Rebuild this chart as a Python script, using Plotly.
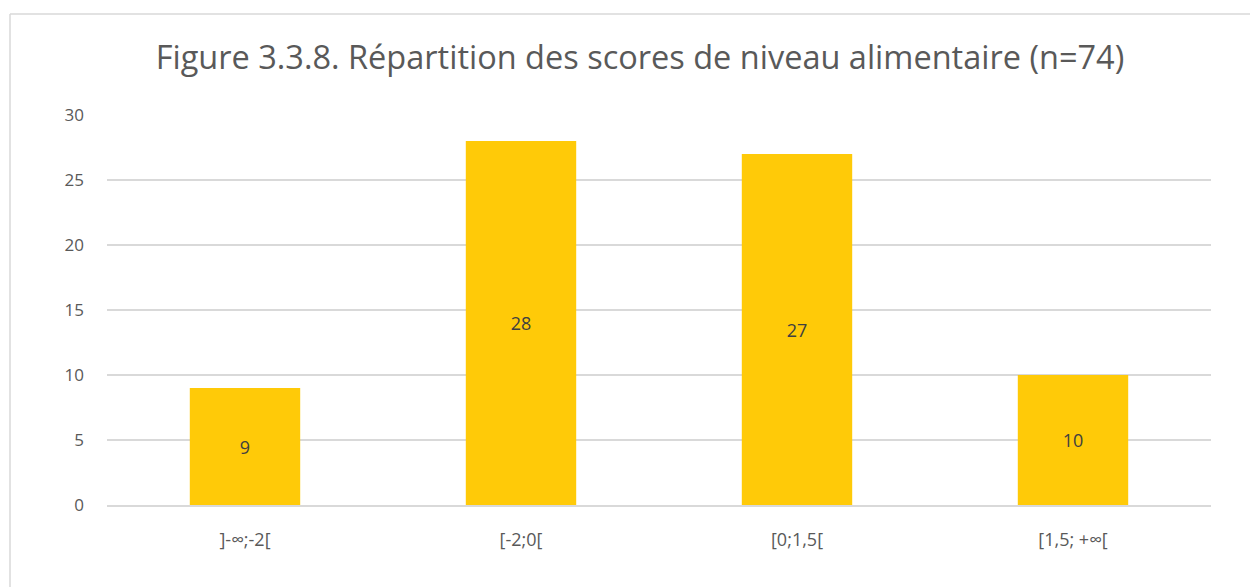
import plotly.graph_objects as go

categories = ["]-∞;-2[", "[-2;0[", "[0;1,5[", "[1,5; +∞["]
values = [9, 28, 27, 10]
y_ticks = [0, 5, 10, 15, 20, 25, 30]
title_text = "Figure 3.3.8. Répartition des scores de niveau alimentaire (n=74)"

# page has an 8px body margin; figure sized so it fills the 1258x587 window
W, H = 1250, 579
L, R, T, B = 99, 47, 107, 82
pw, ph = W - L - R, H - T - B

def px_x(p):
    return (p - L) / pw

def px_y(p):
    return (H - B - p) / ph

FONT = "Open Sans, sans-serif"

fig = go.Figure(go.Bar(
    x=categories, y=values,
    marker=dict(color="#FFCA08", line=dict(width=0)),
    text=[str(v) for v in values],
    textposition="inside", insidetextanchor="middle",
    textfont=dict(family=FONT, size=18, color="#404040"),
    hoverinfo="skip",
))

fig.update_layout(
    width=W, height=H,
    margin=dict(l=L, r=R, t=T, b=B, autoexpand=False),
    paper_bgcolor="white", plot_bgcolor="white",
    bargap=0.6,
    showlegend=False,
    font=dict(family=FONT, color="#595959"),
    title=dict(text=title_text, xref="container", x=632 / W,
               xanchor="center", yref="container", y=1 - 50 / H, yanchor="middle",
               font=dict(family=FONT, size=32.5, color="#595959")),
    xaxis=dict(showgrid=False, showline=True, linecolor="#d9d9d9", linewidth=1.5,
               ticks="", tickfont=dict(size=18, color="#595959"), ticklabelstandoff=18),
    yaxis=dict(range=[0, 30], tickvals=y_ticks, showgrid=True, gridcolor="#d9d9d9",
               gridwidth=1.5, zeroline=False, showline=False, ticks="",
               tickfont=dict(size=17, color="#595959"), ticklabelstandoff=22),
    shapes=[
        dict(type="line", xref="paper", yref="paper", x0=px_x(2), x1=px_x(W + 20),
             y0=px_y(6), y1=px_y(6), line=dict(color="#d9d9d9", width=1.5)),
        dict(type="line", xref="paper", yref="paper", x0=px_x(2), x1=px_x(2),
             y0=px_y(6), y1=px_y(H + 20), line=dict(color="#d9d9d9", width=1.5)),
    ],
)

fig.write_html("out.html")
